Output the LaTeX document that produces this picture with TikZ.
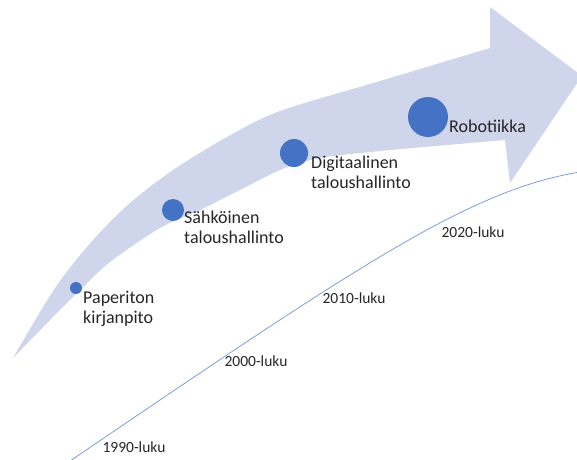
\documentclass[tikz,border=0pt]{standalone}
\usepackage{fontspec}
\setmainfont{Carlito}
\definecolor{arrowfill}{HTML}{CFD5EA}
\definecolor{dotblue}{HTML}{4472C4}
\definecolor{lineblue}{HTML}{7F9ED6}
\begin{document}
\begin{tikzpicture}[x=1pt,y=-1pt,
  dot/.style={circle,fill=dotblue,inner sep=0pt,minimum size=#1},
  stage/.style={anchor=base west,align=left,inner sep=0pt,font=\fontsize{18}{20.5}\selectfont,text=black!85},
  decade/.style={inner sep=0pt,font=\fontsize{15.5}{18}\selectfont,text=black!85}]
\useasboundingbox (0,0) rectangle (577,459);
\clip (0,0) rectangle (577,459);
% curved arrow
\fill[arrowfill] plot[smooth] coordinates {(13,358) (55,288) (93,240) (130,203) (173,170) (227,137) (280,111) (380,81) (490,48)}
  -- (490,7) -- (582,76) -- (510,183)
  -- plot[smooth] coordinates {(505,140) (447,145) (380,151) (320,158) (280,170) (240,190) (200,210) (160,228) (110,262) (76,294) (50,320) (13,358)}
  -- cycle;
% time line
\coordinate (t0) at (70,461);
\coordinate (t1) at (580,172);
\draw[lineblue,line width=0.8pt] (t0) .. controls (360,264) and (470,190) .. (t1);
% dots
\node[dot=12pt] (d1) at (76,288) {};
\node[dot=22pt] (d2) at (173,210) {};
\node[dot=28pt] (d3) at (294,153) {};
\node[dot=40pt] (d4) at (428,117) {};
% stage labels (base anchor = last line baseline)
\node[stage] (l1) at (83,323.5) {Paperiton\\kirjanpito};
\node[stage] (l2) at (184,243.5) {Sähköinen\\taloushallinto};
\node[stage] (l3) at (311,188.5) {Digitaalinen\\taloushallinto};
\node[stage] (l4) at (449,132) {Robotiikka};
% decade labels
\node[decade] (y1) at (134,447) {1990-luku};
\node[decade] (y2) at (256,361) {2000-luku};
\node[decade] (y3) at (354,298) {2010-luku};
\node[decade] (y4) at (473,232) {2020-luku};
\end{tikzpicture}
\end{document}
